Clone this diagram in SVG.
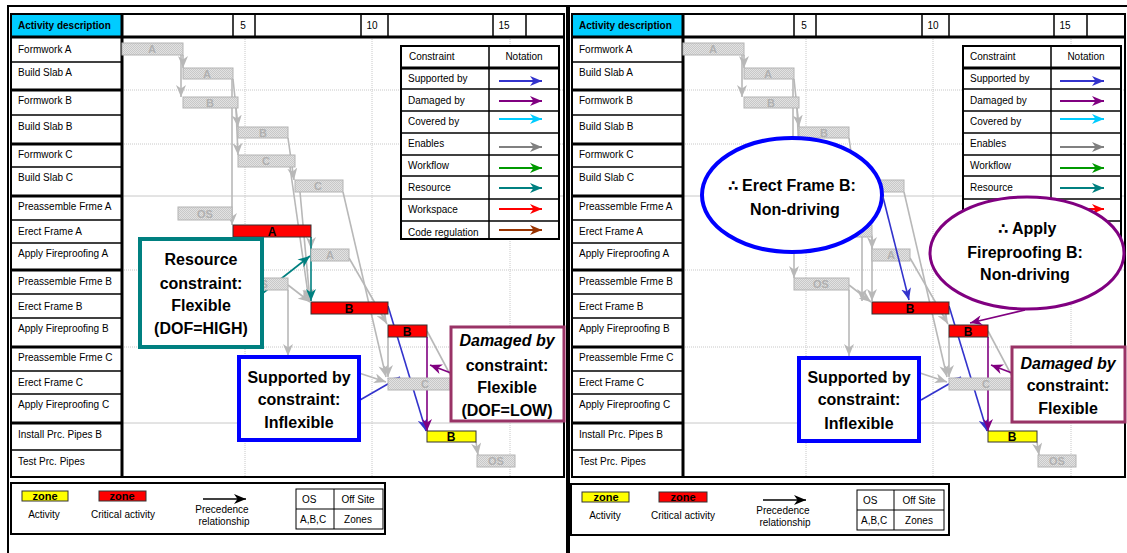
<svg xmlns="http://www.w3.org/2000/svg" width="1127" height="553" viewBox="0 0 1127 553">
<style>
text{font-family:"Liberation Sans",Arial,sans-serif;fill:#000}
.t{font-size:10px}
.tc{font-size:10px;text-anchor:middle}
.hb{font-size:10px;font-weight:bold}
.gl{font-size:11px;font-weight:bold;fill:#b0b0b0;text-anchor:middle}
.cl{font-size:12px;font-weight:bold;text-anchor:middle}
.co{font-size:16px;font-weight:bold;text-anchor:middle}
.cos{font-size:16px;font-weight:bold}
.sym{font-family:"DejaVu Sans",sans-serif;font-size:15px;font-weight:bold}
.coi{font-size:16px;font-weight:bold;font-style:italic;text-anchor:middle}
.frame{fill:none;stroke:#000;stroke-width:2}
.row{stroke:#000;stroke-width:1.5}
.grp{stroke:#000;stroke-width:3}
.dot{stroke:#c8c8c8;stroke-width:1;stroke-dasharray:1,1}
.sol{stroke:#c8c8c8;stroke-width:1}
.gb{fill:url(#stip);stroke:#b4b4b4;stroke-width:1}
.rb{fill:#ff0000;stroke:#333;stroke-width:1}
.yb{fill:#ffff00;stroke:#333;stroke-width:1}
.en{fill:none;stroke:#b8b8b8;stroke-width:1.6;marker-end:url(#mG)}
.enn{fill:none;stroke:#b8b8b8;stroke-width:1.6}
.tl{fill:none;stroke:#008080;stroke-width:1.6;marker-end:url(#mT)}
.bl{fill:none;stroke:#3333cc;stroke-width:1.6;marker-end:url(#mB)}
.pl{fill:none;stroke:#800080;stroke-width:1.6;marker-end:url(#mP)}
.lg{stroke-width:2;fill:none}
</style>
<defs>
<pattern id="stip" width="2" height="2" patternUnits="userSpaceOnUse"><rect width="2" height="2" fill="#e2e2e2"/><rect width="1" height="1" fill="#c8c8c8"/><rect x="1" y="1" width="1" height="1" fill="#c8c8c8"/></pattern>
<marker id="mG" markerUnits="userSpaceOnUse" markerWidth="13" markerHeight="10" refX="12" refY="5" orient="auto"><path d="M0,0 L12,5 L0,10 L3.5,5 z" fill="#b8b8b8"/></marker>
<marker id="mT" markerUnits="userSpaceOnUse" markerWidth="13" markerHeight="10" refX="12" refY="5" orient="auto"><path d="M0,0 L12,5 L0,10 L3.5,5 z" fill="#008080"/></marker>
<marker id="mB" markerUnits="userSpaceOnUse" markerWidth="13" markerHeight="10" refX="12" refY="5" orient="auto"><path d="M0,0 L12,5 L0,10 L3.5,5 z" fill="#3333cc"/></marker>
<marker id="mP" markerUnits="userSpaceOnUse" markerWidth="13" markerHeight="10" refX="12" refY="5" orient="auto"><path d="M0,0 L12,5 L0,10 L3.5,5 z" fill="#800080"/></marker>
<marker id="mK" markerUnits="userSpaceOnUse" markerWidth="13" markerHeight="10" refX="12" refY="5" orient="auto"><path d="M0,0 L12,5 L0,10 L3.5,5 z" fill="#000"/></marker>
<marker id="mL1" markerUnits="userSpaceOnUse" markerWidth="13" markerHeight="10" refX="12" refY="5" orient="auto"><path d="M0,0 L12,5 L0,10 L3.5,5 z" fill="#3333cc"/></marker>
<marker id="mL2" markerUnits="userSpaceOnUse" markerWidth="13" markerHeight="10" refX="12" refY="5" orient="auto"><path d="M0,0 L12,5 L0,10 L3.5,5 z" fill="#800080"/></marker>
<marker id="mL3" markerUnits="userSpaceOnUse" markerWidth="13" markerHeight="10" refX="12" refY="5" orient="auto"><path d="M0,0 L12,5 L0,10 L3.5,5 z" fill="#00ccff"/></marker>
<marker id="mL4" markerUnits="userSpaceOnUse" markerWidth="13" markerHeight="10" refX="12" refY="5" orient="auto"><path d="M0,0 L12,5 L0,10 L3.5,5 z" fill="#808080"/></marker>
<marker id="mL5" markerUnits="userSpaceOnUse" markerWidth="13" markerHeight="10" refX="12" refY="5" orient="auto"><path d="M0,0 L12,5 L0,10 L3.5,5 z" fill="#009900"/></marker>
<marker id="mL6" markerUnits="userSpaceOnUse" markerWidth="13" markerHeight="10" refX="12" refY="5" orient="auto"><path d="M0,0 L12,5 L0,10 L3.5,5 z" fill="#008080"/></marker>
<marker id="mL7" markerUnits="userSpaceOnUse" markerWidth="13" markerHeight="10" refX="12" refY="5" orient="auto"><path d="M0,0 L12,5 L0,10 L3.5,5 z" fill="#ff0000"/></marker>
<marker id="mL8" markerUnits="userSpaceOnUse" markerWidth="13" markerHeight="10" refX="12" refY="5" orient="auto"><path d="M0,0 L12,5 L0,10 L3.5,5 z" fill="#993300"/></marker>
</defs>
<rect width="1127" height="553" fill="#fff"/>

<!-- ================= LEFT PANEL ================= -->
<g id="leftPanel">
<g id="L-frame">
<path d="M8,553 V6 H567 V553" fill="none" stroke="#000" stroke-width="2"/>
</g>
<g id="L-grid">
<line class="dot" x1="122" y1="90" x2="564" y2="90"/>
<line class="dot" x1="122" y1="144" x2="564" y2="144"/>
<line class="sol" x1="122" y1="196" x2="564" y2="196"/>
<line class="dot" x1="122" y1="270" x2="564" y2="270"/>
<line class="dot" x1="122" y1="347" x2="564" y2="347"/>
<line class="sol" x1="122" y1="423" x2="564" y2="423"/>
<line class="dot" x1="245" y1="37" x2="245" y2="477"/>
<line class="dot" x1="372" y1="37" x2="372" y2="477"/>
<line class="dot" x1="510" y1="37" x2="510" y2="477"/>
</g>
<g id="L-table">
<rect x="11" y="14" width="111" height="23" fill="#00ccff"/>
<rect class="frame" x="11" y="14" width="553" height="463"/>
<line class="grp" x1="11" y1="37" x2="564" y2="37"/>
<line class="grp" x1="122" y1="14" x2="122" y2="477"/>
<line class="row" x1="233" y1="14" x2="233" y2="37"/>
<line class="row" x1="255" y1="14" x2="255" y2="37"/>
<line class="row" x1="361" y1="14" x2="361" y2="37"/>
<line class="row" x1="388" y1="14" x2="388" y2="37"/>
<line class="row" x1="493" y1="14" x2="493" y2="37"/>
<line class="row" x1="526" y1="14" x2="526" y2="37"/>
<text class="hb" x="18" y="29">Activity description</text>
<text class="tc" x="243" y="29">5</text>
<text class="tc" x="372" y="29">10</text>
<text class="tc" x="504" y="29">15</text>
<line class="row" x1="11" y1="62" x2="122" y2="62"/>
<line class="grp" x1="11" y1="90" x2="122" y2="90"/>
<line class="row" x1="11" y1="115" x2="122" y2="115"/>
<line class="grp" x1="11" y1="144" x2="122" y2="144"/>
<line class="row" x1="11" y1="167" x2="122" y2="167"/>
<line class="grp" x1="11" y1="196" x2="122" y2="196"/>
<line class="row" x1="11" y1="220" x2="122" y2="220"/>
<line class="row" x1="11" y1="243" x2="122" y2="243"/>
<line class="grp" x1="11" y1="270" x2="122" y2="270"/>
<line class="row" x1="11" y1="294" x2="122" y2="294"/>
<line class="row" x1="11" y1="318" x2="122" y2="318"/>
<line class="grp" x1="11" y1="347" x2="122" y2="347"/>
<line class="row" x1="11" y1="371" x2="122" y2="371"/>
<line class="row" x1="11" y1="394" x2="122" y2="394"/>
<line class="grp" x1="11" y1="423" x2="122" y2="423"/>
<line class="row" x1="11" y1="450" x2="122" y2="450"/>
<text class="t" x="18" y="53">Formwork A</text>
<text class="t" x="18" y="76">Build Slab A</text>
<text class="t" x="18" y="104">Formwork B</text>
<text class="t" x="18" y="130">Build Slab B</text>
<text class="t" x="18" y="158">Formwork C</text>
<text class="t" x="18" y="181">Build Slab C</text>
<text class="t" x="18" y="210">Preassemble Frme A</text>
<text class="t" x="18" y="235">Erect Frame A</text>
<text class="t" x="18" y="257">Apply Fireproofing A</text>
<text class="t" x="18" y="285">Preassemble Frme B</text>
<text class="t" x="18" y="310">Erect Frame B</text>
<text class="t" x="18" y="332">Apply Fireproofing B</text>
<text class="t" x="18" y="361">Preassemble Frme C</text>
<text class="t" x="18" y="386">Erect Frame C</text>
<text class="t" x="18" y="408">Apply Fireproofing C</text>
<text class="t" x="18" y="438">Install Prc. Pipes B</text>
<text class="t" x="18" y="465">Test Prc. Pipes</text>
</g>
<g id="L-constraint-legend">
<rect x="401" y="46" width="158" height="193" fill="#fff" stroke="#000" stroke-width="2"/>
<line class="row" x1="489" y1="46" x2="489" y2="239"/>
<line class="grp" x1="401" y1="68" x2="559" y2="68"/>
<line class="row" x1="401" y1="89" x2="559" y2="89"/>
<line class="row" x1="401" y1="111" x2="559" y2="111"/>
<line class="row" x1="401" y1="133" x2="559" y2="133"/>
<line class="row" x1="401" y1="155" x2="559" y2="155"/>
<line class="row" x1="401" y1="176" x2="559" y2="176"/>
<line class="row" x1="401" y1="199" x2="559" y2="199"/>
<line class="row" x1="401" y1="221" x2="559" y2="221"/>
<text class="t" x="409" y="60">Constraint</text>
<text class="tc" x="524" y="60">Notation</text>
<text class="t" x="408" y="82">Supported by</text>
<text class="t" x="408" y="104">Damaged by</text>
<text class="t" x="408" y="125">Covered by</text>
<text class="t" x="408" y="147">Enables</text>
<text class="t" x="408" y="169">Workflow</text>
<text class="t" x="408" y="191">Resource</text>
<text class="t" x="408" y="213">Workspace</text>
<text class="t" x="408" y="236">Code regulation</text>
<line class="lg" x1="499" y1="81" x2="542" y2="81" stroke="#3333cc" marker-end="url(#mL1)"/>
<line class="lg" x1="499" y1="101" x2="542" y2="101" stroke="#800080" marker-end="url(#mL2)"/>
<line class="lg" x1="499" y1="119" x2="542" y2="119" stroke="#00ccff" marker-end="url(#mL3)"/>
<line class="lg" x1="499" y1="147" x2="542" y2="147" stroke="#808080" marker-end="url(#mL4)"/>
<line class="lg" x1="499" y1="168" x2="542" y2="168" stroke="#009900" marker-end="url(#mL5)"/>
<line class="lg" x1="499" y1="188" x2="542" y2="188" stroke="#008080" marker-end="url(#mL6)"/>
<line class="lg" x1="499" y1="209" x2="542" y2="209" stroke="#ff0000" marker-end="url(#mL7)"/>
<line class="lg" x1="499" y1="230" x2="542" y2="230" stroke="#993300" marker-end="url(#mL8)"/>
</g>
<g id="L-connectors">
<path class="en" d="M183,55 V68"/>
<path class="en" d="M181,55 V97"/>
<path class="en" d="M233,79 L238,127"/>
<path class="en" d="M236,108 L238,155"/>
<path class="en" d="M232,79 V225"/>
<path class="en" d="M233,237 V278"/>
<path class="en" d="M288,138 L294,180"/>
<path class="en" d="M290,167 L309,301"/>
<path class="en" d="M300,192 L310,301"/>
<path class="en" d="M288,285 L310,302"/>
<path class="en" d="M311,237 V249"/>
<path class="en" d="M349,258 L387,324"/>
<path class="en" d="M343,192 L386,377"/>
<path class="en" d="M388,337 V377"/>
<path class="en" d="M288,290 V356"/>
<path class="en" d="M350,370 L386,382"/>
<path class="enn" d="M427,331 L452,378"/>
<path class="en" d="M476,442 L478,455"/>
<path class="tl" d="M311,237 V301"/>
<path class="tl" d="M263,293 L310,256"/>
<path class="bl" d="M388,306 L426,431"/>
<path class="bl" d="M360,400 L400,377"/>
<path class="pl" d="M427,337 V431"/>
<path class="pl" d="M451,373 L430,365"/>
</g>
<g id="L-bars">
<g id="L-FA"><rect class="gb" x="122" y="43" width="61" height="12"/><text class="gl" x="152" y="53">A</text></g>
<g id="L-BSA"><rect class="gb" x="183" y="68" width="50" height="11"/><text class="gl" x="207" y="78">A</text></g>
<g id="L-FB"><rect class="gb" x="183" y="97" width="55" height="11"/><text class="gl" x="210" y="107">B</text></g>
<g id="L-BSB"><rect class="gb" x="238" y="127" width="50" height="11"/><text class="gl" x="263" y="137">B</text></g>
<g id="L-FC"><rect class="gb" x="238" y="155" width="57" height="12"/><text class="gl" x="266" y="165">C</text></g>
<g id="L-BSC"><rect class="gb" x="295" y="180" width="48" height="12"/><text class="gl" x="318" y="190">C</text></g>
<g id="L-PFA"><rect class="gb" x="178" y="207" width="54" height="13"/><text class="gl" x="205" y="218">OS</text></g>
<g id="L-AFA"><rect class="gb" x="311" y="249" width="38" height="12"/><text class="gl" x="330" y="259">A</text></g>
<g id="L-PFB"><rect class="gb" x="233" y="278" width="55" height="12"/><text class="gl" x="260" y="288">OS</text></g>
<g id="L-EFC"><rect class="gb" x="388" y="378" width="62" height="12"/><text class="gl" x="425" y="388">C</text></g>
<g id="L-TPP"><rect class="gb" x="477" y="455" width="38" height="12"/><text class="gl" x="496" y="465">OS</text></g>
<g id="L-EFA"><rect class="rb" x="233" y="225" width="78" height="12"/><text class="cl" x="272" y="236">A</text></g>
<g id="L-EFB"><rect class="rb" x="311" y="302" width="77" height="12"/><text class="cl" x="349" y="313">B</text></g>
<g id="L-AFB"><rect class="rb" x="388" y="325" width="39" height="12"/><text class="cl" x="407" y="336">B</text></g>
<g id="L-IPB"><rect class="yb" x="427" y="431" width="49" height="11"/><text class="cl" x="451" y="441">B</text></g>
</g>
<g id="L-resource-callout">
<rect x="140" y="239" width="122" height="108" fill="#fff" stroke="#008080" stroke-width="4"/>
<text class="co" x="201" y="265">Resource</text>
<text class="co" x="201" y="289">constraint:</text>
<text class="co" x="201" y="311">Flexible</text>
<text class="co" x="201" y="334">(DOF=HIGH)</text>
</g>
<g id="L-supported-callout">
<rect x="239" y="357" width="120" height="83" fill="#fff" stroke="#0000ff" stroke-width="4"/>
<text class="co" x="299" y="383">Supported by</text>
<text class="co" x="299" y="405">constraint:</text>
<text class="co" x="299" y="428">Inflexible</text>
</g>
<g id="L-damaged-callout">
<rect x="451" y="327" width="113" height="94" fill="#fff" stroke="#993366" stroke-width="3"/>
<text class="coi" x="507" y="346">Damaged by</text>
<text class="co" x="507" y="371">constraint:</text>
<text class="co" x="507" y="393">Flexible</text>
<text class="co" x="507" y="416">(DOF=LOW)</text>
</g>
<g id="L-legend">
<rect x="11" y="483" width="374" height="51" fill="#fff" stroke="#000" stroke-width="2"/>
<rect x="22" y="491" width="46" height="10" fill="#ffff00" stroke="#333" stroke-width="1"/>
<text x="45" y="500" font-size="11" font-weight="bold" text-anchor="middle">zone</text>
<text class="tc" x="44" y="518">Activity</text>
<rect x="99" y="491" width="47" height="10" fill="#ff0000" stroke="#333" stroke-width="1"/>
<text x="122" y="500" font-size="11" font-weight="bold" text-anchor="middle">zone</text>
<text class="tc" x="123" y="518">Critical activity</text>
<line x1="203" y1="499" x2="246" y2="499" stroke="#000" stroke-width="1.5" marker-end="url(#mK)"/>
<text class="tc" x="222" y="513">Precedence</text>
<text class="tc" x="224" y="525">relationship</text>
<rect x="296" y="489" width="87" height="40" fill="none" stroke="#000" stroke-width="1"/>
<line x1="334" y1="489" x2="334" y2="529" stroke="#000" stroke-width="1"/>
<line x1="296" y1="509" x2="383" y2="509" stroke="#000" stroke-width="1"/>
<text class="t" x="302" y="503">OS</text>
<text class="tc" x="358" y="503">Off Site</text>
<text class="t" x="300" y="523">A,B,C</text>
<text class="tc" x="358" y="523">Zones</text>
</g>
</g>

<!-- ================= RIGHT PANEL ================= -->
<g id="rightPanel" transform="translate(561,0)">
<g id="R-frame">
<path d="M8,553 V6 H570" fill="none" stroke="#000" stroke-width="2"/>
</g>
<g id="R-grid">
<line class="dot" x1="122" y1="90" x2="564" y2="90"/>
<line class="dot" x1="122" y1="144" x2="564" y2="144"/>
<line class="sol" x1="122" y1="196" x2="564" y2="196"/>
<line class="dot" x1="122" y1="270" x2="564" y2="270"/>
<line class="dot" x1="122" y1="347" x2="564" y2="347"/>
<line class="sol" x1="122" y1="423" x2="564" y2="423"/>
<line class="dot" x1="245" y1="37" x2="245" y2="477"/>
<line class="dot" x1="372" y1="37" x2="372" y2="477"/>
<line class="dot" x1="510" y1="37" x2="510" y2="477"/>
</g>
<g id="R-table">
<rect x="11" y="14" width="111" height="23" fill="#00ccff"/>
<rect class="frame" x="11" y="14" width="553" height="463"/>
<line class="grp" x1="11" y1="37" x2="564" y2="37"/>
<line class="grp" x1="122" y1="14" x2="122" y2="477"/>
<line class="row" x1="233" y1="14" x2="233" y2="37"/>
<line class="row" x1="255" y1="14" x2="255" y2="37"/>
<line class="row" x1="361" y1="14" x2="361" y2="37"/>
<line class="row" x1="388" y1="14" x2="388" y2="37"/>
<line class="row" x1="493" y1="14" x2="493" y2="37"/>
<line class="row" x1="526" y1="14" x2="526" y2="37"/>
<text class="hb" x="18" y="29">Activity description</text>
<text class="tc" x="243" y="29">5</text>
<text class="tc" x="372" y="29">10</text>
<text class="tc" x="504" y="29">15</text>
<line class="row" x1="11" y1="62" x2="122" y2="62"/>
<line class="grp" x1="11" y1="90" x2="122" y2="90"/>
<line class="row" x1="11" y1="115" x2="122" y2="115"/>
<line class="grp" x1="11" y1="144" x2="122" y2="144"/>
<line class="row" x1="11" y1="167" x2="122" y2="167"/>
<line class="grp" x1="11" y1="196" x2="122" y2="196"/>
<line class="row" x1="11" y1="220" x2="122" y2="220"/>
<line class="row" x1="11" y1="243" x2="122" y2="243"/>
<line class="grp" x1="11" y1="270" x2="122" y2="270"/>
<line class="row" x1="11" y1="294" x2="122" y2="294"/>
<line class="row" x1="11" y1="318" x2="122" y2="318"/>
<line class="grp" x1="11" y1="347" x2="122" y2="347"/>
<line class="row" x1="11" y1="371" x2="122" y2="371"/>
<line class="row" x1="11" y1="394" x2="122" y2="394"/>
<line class="grp" x1="11" y1="423" x2="122" y2="423"/>
<line class="row" x1="11" y1="450" x2="122" y2="450"/>
<text class="t" x="18" y="53">Formwork A</text>
<text class="t" x="18" y="76">Build Slab A</text>
<text class="t" x="18" y="104">Formwork B</text>
<text class="t" x="18" y="130">Build Slab B</text>
<text class="t" x="18" y="158">Formwork C</text>
<text class="t" x="18" y="181">Build Slab C</text>
<text class="t" x="18" y="210">Preassemble Frme A</text>
<text class="t" x="18" y="235">Erect Frame A</text>
<text class="t" x="18" y="257">Apply Fireproofing A</text>
<text class="t" x="18" y="285">Preassemble Frme B</text>
<text class="t" x="18" y="310">Erect Frame B</text>
<text class="t" x="18" y="332">Apply Fireproofing B</text>
<text class="t" x="18" y="361">Preassemble Frme C</text>
<text class="t" x="18" y="386">Erect Frame C</text>
<text class="t" x="18" y="408">Apply Fireproofing C</text>
<text class="t" x="18" y="438">Install Prc. Pipes B</text>
<text class="t" x="18" y="465">Test Prc. Pipes</text>
</g>
<g id="R-constraint-legend">
<rect x="402" y="46" width="158" height="193" fill="#fff" stroke="#000" stroke-width="2"/>
<line class="row" x1="490" y1="46" x2="490" y2="239"/>
<line class="grp" x1="402" y1="68" x2="560" y2="68"/>
<line class="row" x1="402" y1="89" x2="560" y2="89"/>
<line class="row" x1="402" y1="111" x2="560" y2="111"/>
<line class="row" x1="402" y1="133" x2="560" y2="133"/>
<line class="row" x1="402" y1="155" x2="560" y2="155"/>
<line class="row" x1="402" y1="176" x2="560" y2="176"/>
<line class="row" x1="402" y1="199" x2="560" y2="199"/>
<line class="row" x1="402" y1="221" x2="560" y2="221"/>
<text class="t" x="409" y="60">Constraint</text>
<text class="tc" x="525" y="60">Notation</text>
<text class="t" x="409" y="82">Supported by</text>
<text class="t" x="409" y="104">Damaged by</text>
<text class="t" x="409" y="125">Covered by</text>
<text class="t" x="409" y="147">Enables</text>
<text class="t" x="409" y="169">Workflow</text>
<text class="t" x="409" y="191">Resource</text>
<line class="lg" x1="499" y1="81" x2="543" y2="81" stroke="#3333cc" marker-end="url(#mL1)"/>
<line class="lg" x1="499" y1="101" x2="543" y2="101" stroke="#800080" marker-end="url(#mL2)"/>
<line class="lg" x1="499" y1="119" x2="543" y2="119" stroke="#00ccff" marker-end="url(#mL3)"/>
<line class="lg" x1="499" y1="147" x2="543" y2="147" stroke="#808080" marker-end="url(#mL4)"/>
<line class="lg" x1="499" y1="168" x2="543" y2="168" stroke="#009900" marker-end="url(#mL5)"/>
<line class="lg" x1="499" y1="188" x2="543" y2="188" stroke="#008080" marker-end="url(#mL6)"/>
<line class="lg" x1="499" y1="209" x2="543" y2="209" stroke="#ff0000" marker-end="url(#mL7)"/>
<line class="lg" x1="499" y1="230" x2="543" y2="230" stroke="#993300" marker-end="url(#mL8)"/>
</g>
<g id="R-connectors">
<path class="en" d="M183,55 V68"/>
<path class="en" d="M181,55 V97"/>
<path class="en" d="M233,79 L238,127"/>
<path class="en" d="M236,108 L238,155"/>
<path class="en" d="M232,79 V225"/>
<path class="en" d="M233,237 V278"/>
<path class="en" d="M288,138 L294,180"/>
<path class="en" d="M290,167 L301,237 V301"/>
<path class="en" d="M300,192 L311,237 V301"/>
<path class="en" d="M288,285 L310,302"/>
<path class="en" d="M311,237 V249"/>
<path class="en" d="M349,258 L387,324"/>
<path class="en" d="M343,192 L386,377"/>
<path class="en" d="M388,337 V377"/>
<path class="en" d="M288,290 V356"/>
<path class="en" d="M350,370 L386,382"/>
<path class="enn" d="M427,331 L452,378"/>
<path class="en" d="M476,442 L478,455"/>
<path class="bl" d="M388,306 L426,431"/>
<path class="bl" d="M360,400 L400,377"/>
<path class="pl" d="M427,337 V431"/>
<path class="pl" d="M451,373 L430,365"/>
</g>
<g id="R-bars">
<g id="R-FA"><rect class="gb" x="122" y="43" width="61" height="12"/><text class="gl" x="152" y="53">A</text></g>
<g id="R-BSA"><rect class="gb" x="183" y="68" width="50" height="11"/><text class="gl" x="207" y="78">A</text></g>
<g id="R-FB"><rect class="gb" x="183" y="97" width="55" height="11"/><text class="gl" x="210" y="107">B</text></g>
<g id="R-BSB"><rect class="gb" x="238" y="127" width="50" height="11"/><text class="gl" x="263" y="137">B</text></g>
<g id="R-FC"><rect class="gb" x="238" y="155" width="57" height="12"/><text class="gl" x="266" y="165">C</text></g>
<g id="R-BSC"><rect class="gb" x="295" y="180" width="48" height="12"/><text class="gl" x="318" y="190">C</text></g>
<g id="R-PFA"><rect class="gb" x="178" y="207" width="54" height="13"/></g>
<g id="R-EFA"><rect class="gb" x="233" y="225" width="78" height="12"/></g>
<g id="R-AFA"><rect class="gb" x="311" y="249" width="38" height="12"/><text class="gl" x="330" y="259">A</text></g>
<g id="R-PFB"><rect class="gb" x="233" y="278" width="55" height="12"/><text class="gl" x="260" y="288">OS</text></g>
<g id="R-EFC"><rect class="gb" x="388" y="378" width="62" height="12"/><text class="gl" x="425" y="388">C</text></g>
<g id="R-TPP"><rect class="gb" x="477" y="455" width="38" height="12"/><text class="gl" x="496" y="465">OS</text></g>
<g id="R-EFB"><rect class="rb" x="311" y="302" width="77" height="12"/><text class="cl" x="349" y="313">B</text></g>
<g id="R-AFB"><rect class="rb" x="388" y="325" width="39" height="12"/><text class="cl" x="407" y="336">B</text></g>
<g id="R-IPB"><rect class="yb" x="427" y="431" width="49" height="11"/><text class="cl" x="451" y="441">B</text></g>
</g>
<g id="R-erect-ellipse">
<ellipse cx="231" cy="195" rx="90" ry="57" fill="#fff" stroke="#0000ff" stroke-width="4"/>
<text class="sym" x="167" y="191">∴</text>
<text class="cos" x="181" y="191">Erect Frame B:</text>
<text class="co" x="234" y="215">Non-driving</text>
</g>
<g id="R-fireproof-ellipse">
<ellipse cx="466" cy="253" rx="97" ry="56" fill="#fff" stroke="#800080" stroke-width="3"/>
<text class="sym" x="437" y="234">∴</text>
<text class="cos" x="451" y="234">Apply</text>
<text class="co" x="464" y="258">Fireproofing B:</text>
<text class="co" x="464" y="280">Non-driving</text>
</g>
<g id="R-ellipse-connectors">
<path class="bl" d="M322,197 L348,300"/>
<path class="pl" d="M464,310 L409,323"/>
</g>
<g id="R-supported-callout">
<rect x="238" y="358" width="120" height="83" fill="#fff" stroke="#0000ff" stroke-width="4"/>
<text class="co" x="298" y="383">Supported by</text>
<text class="co" x="298" y="405">constraint:</text>
<text class="co" x="298" y="429">Inflexible</text>
</g>
<g id="R-damaged-callout">
<rect x="451" y="347" width="113" height="75" fill="#fff" stroke="#993366" stroke-width="3"/>
<text class="coi" x="507" y="369">Damaged by</text>
<text class="co" x="507" y="391">constraint:</text>
<text class="co" x="507" y="414">Flexible</text>
</g>
<g id="R-legend">
<rect x="10" y="484" width="378" height="51" fill="#fff" stroke="#000" stroke-width="2"/>
<rect x="21" y="492" width="47" height="10" fill="#ffff00" stroke="#333" stroke-width="1"/>
<text x="45" y="501" font-size="11" font-weight="bold" text-anchor="middle">zone</text>
<text class="tc" x="44" y="519">Activity</text>
<rect x="98" y="492" width="48" height="10" fill="#ff0000" stroke="#333" stroke-width="1"/>
<text x="122" y="501" font-size="11" font-weight="bold" text-anchor="middle">zone</text>
<text class="tc" x="122" y="519">Critical activity</text>
<line x1="202" y1="500" x2="245" y2="500" stroke="#000" stroke-width="1.5" marker-end="url(#mK)"/>
<text class="tc" x="222" y="514">Precedence</text>
<text class="tc" x="224" y="526">relationship</text>
<rect x="296" y="490" width="87" height="40" fill="none" stroke="#000" stroke-width="1"/>
<line x1="333" y1="490" x2="333" y2="530" stroke="#000" stroke-width="1"/>
<line x1="296" y1="510" x2="383" y2="510" stroke="#000" stroke-width="1"/>
<text class="t" x="302" y="504">OS</text>
<text class="tc" x="358" y="504">Off Site</text>
<text class="t" x="300" y="524">A,B,C</text>
<text class="tc" x="358" y="524">Zones</text>
</g>
</g>
</svg>
